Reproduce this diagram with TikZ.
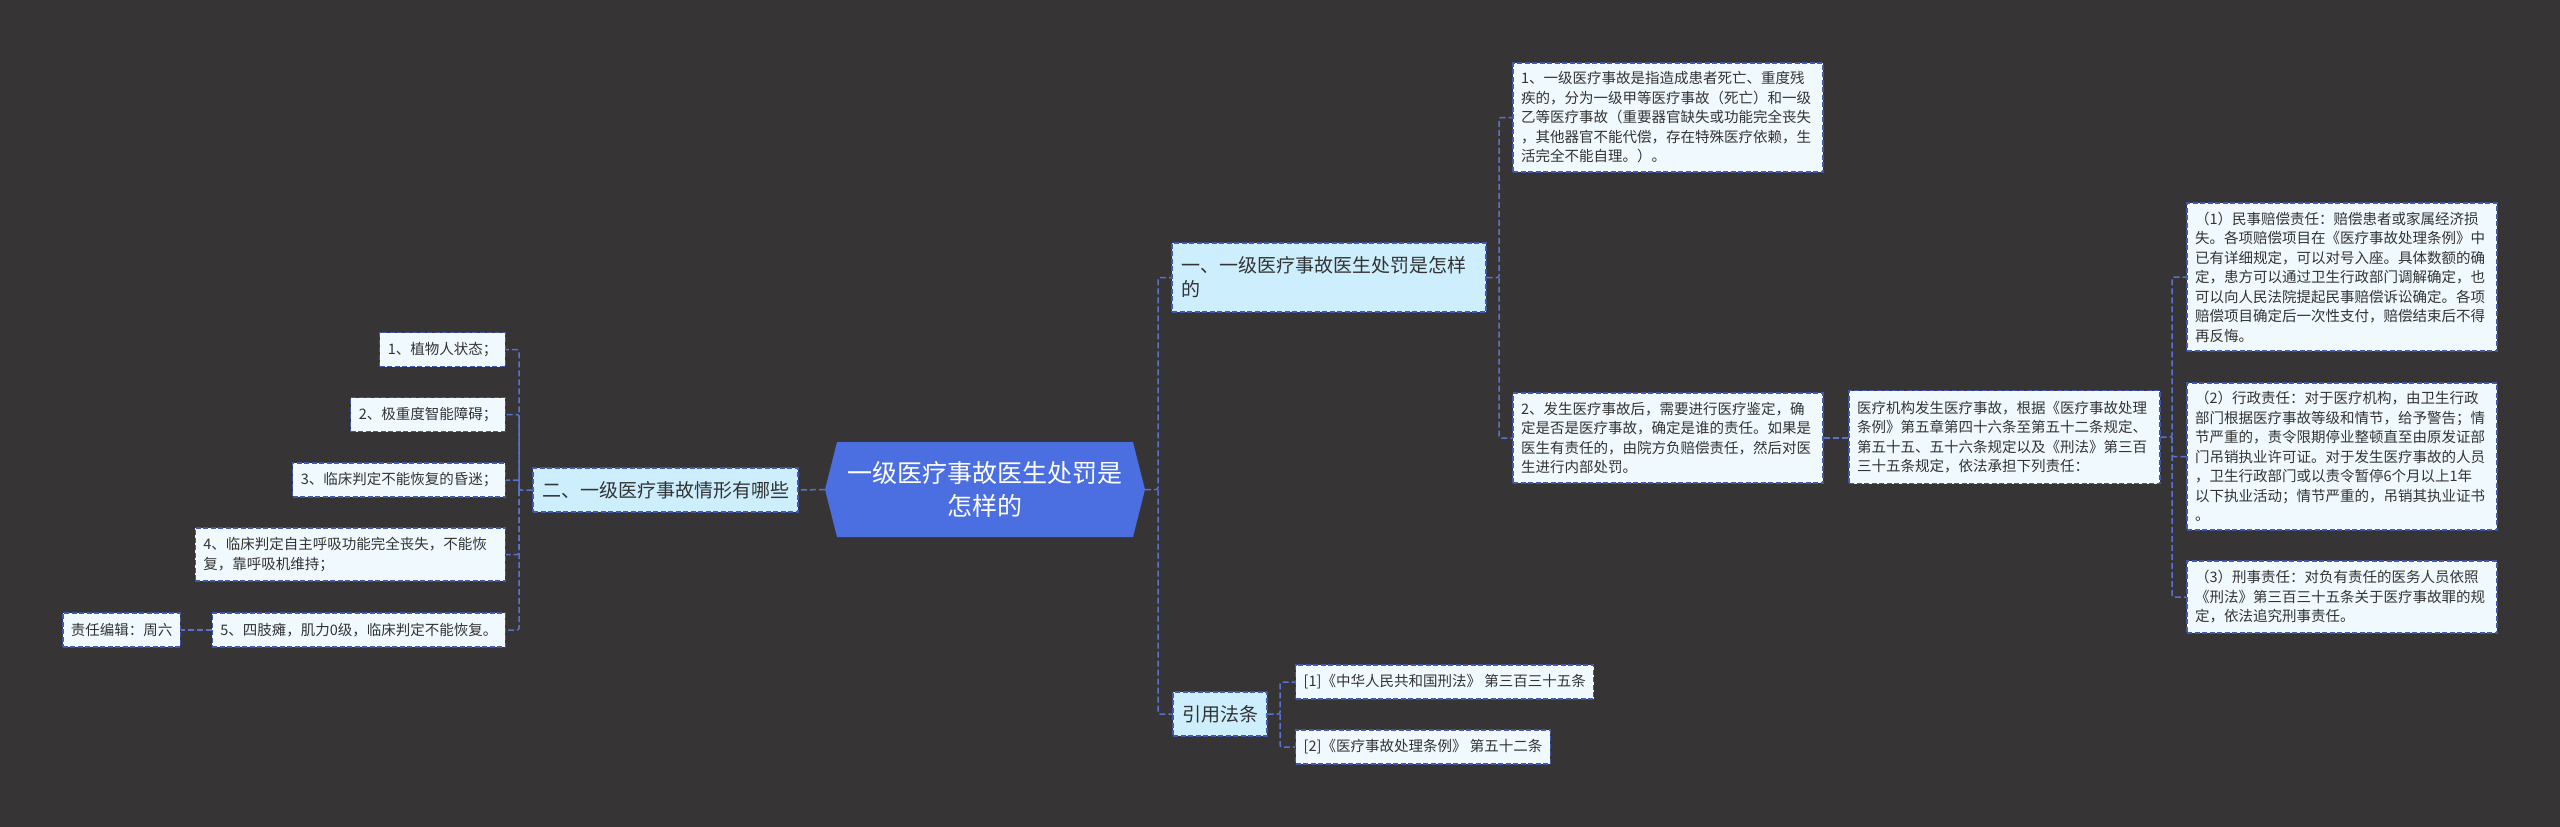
\documentclass[tikz,border=0pt]{standalone}
\usepackage{fontspec}
\setmainfont{Noto Sans CJK SC}
\definecolor{bgc}{HTML}{363435}
\definecolor{centf}{HTML}{4B6EE0}
\definecolor{branchf}{HTML}{CCEEFD}
\definecolor{leaff}{HTML}{F0FAFE}
\definecolor{bordc}{HTML}{4257B0}
\definecolor{linec}{HTML}{5A72CC}
\definecolor{txt}{HTML}{333333}
\begin{document}
\begin{tikzpicture}[x=1pt,y=-1pt,
  conn/.style={draw=linec, line width=1.5pt, dash pattern=on 6pt off 3pt, rounded corners=2pt},
  boxbase/.style={draw=bordc, line width=1.3pt, dash pattern=on 5pt off 2.5pt, text=txt, align=left},
  leaf/.style={boxbase, fill=leaff, font=\fontsize{14.5}{19.5}\selectfont, inner xsep=8pt, inner ysep=4pt},
  branch/.style={boxbase, fill=branchf, font=\fontsize{19}{24}\selectfont, inner xsep=9pt, inner ysep=4pt},
  centnode/.style={text=white, font=\fontsize{25}{33}\selectfont, align=center, minimum width=320pt, minimum height=95pt, inner sep=0pt}
]
\fill[bgc] (0,0) rectangle (2560,827);
\useasboundingbox (0,0) rectangle (2560,827);

% center
\fill[centf] (825,489.5) -- (837,442) -- (1133,442) -- (1145,489.5) -- (1133,537) -- (837,537) -- cycle;
\node[centnode] (c) at (985,489.5) {一级医疗事故医生处罚是\\怎样的};

% branches
\node[branch, text width=296pt, minimum height=69pt] (b1) at (1329,277.5) {一、一级医疗事故医生处罚是怎样\\的};
\node[branch, minimum width=265pt, minimum height=44pt, align=center] (b2) at (665.5,490) {二、一级医疗事故情形有哪些};
\node[branch, minimum width=94pt, minimum height=44pt, align=center] (b3) at (1220,714) {引用法条};

% right leaves
\node[leaf, text width=294pt, minimum height=109pt] (r1) at (1668,117.5) {1、一级医疗事故是指造成患者死亡、重度残\\疾的，分为一级甲等医疗事故（死亡）和一级\\乙等医疗事故（重要器官缺失或功能完全丧失\\，其他器官不能代偿，存在特殊医疗依赖，生\\活完全不能自理。）。};
\node[leaf, text width=294pt, minimum height=90pt] (r2) at (1668,438) {2、发生医疗事故后，需要进行医疗鉴定，确\\定是否是医疗事故，确定是谁的责任。如果是\\医生有责任的，由院方负赔偿责任，然后对医\\生进行内部处罚。};
\node[leaf, text width=295pt, minimum height=93pt] (m) at (2004.5,437) {医疗机构发生医疗事故，根据《医疗事故处理\\条例》第五章第四十六条至第五十二条规定、\\第五十五、五十六条规定以及《刑法》第三百\\三十五条规定，依法承担下列责任：};
\node[leaf, text width=294pt, minimum height=148pt] (p1) at (2342,277) {（1）民事赔偿责任：赔偿患者或家属经济损\\失。各项赔偿项目在《医疗事故处理条例》中\\已有详细规定，可以对号入座。具体数额的确\\定，患方可以通过卫生行政部门调解确定，也\\可以向人民法院提起民事赔偿诉讼确定。各项\\赔偿项目确定后一次性支付，赔偿结束后不得\\再反悔。};
\node[leaf, text width=294pt, minimum height=147pt] (p2) at (2342,456.5) {（2）行政责任：对于医疗机构，由卫生行政\\部门根据医疗事故等级和情节，给予警告；情\\节严重的，责令限期停业整顿直至由原发证部\\门吊销执业许可证。对于发生医疗事故的人员\\，卫生行政部门或以责令暂停6个月以上1年\\以下执业活动；情节严重的，吊销其执业证书\\。};
\node[leaf, text width=294pt, minimum height=72pt] (p3) at (2342,597) {（3）刑事责任：对负有责任的医务人员依照\\《刑法》第三百三十五条关于医疗事故罪的规\\定，依法追究刑事责任。};

% references
\node[leaf, anchor=west, minimum height=34pt] (f1) at (1295,682) {[1]《中华人民共和国刑法》 第三百三十五条};
\node[leaf, anchor=west, minimum height=34pt] (f2) at (1295,747) {[2]《医疗事故处理条例》 第五十二条};

% left leaves
\node[leaf, anchor=east, minimum height=34pt] (l1) at (506,349.5) {1、植物人状态；};
\node[leaf, anchor=east, minimum height=34pt] (l2) at (506,414.5) {2、极重度智能障碍；};
\node[leaf, anchor=east, minimum height=34pt] (l3) at (506,480) {3、临床判定不能恢复的昏迷；};
\node[leaf, anchor=east, text width=294pt, minimum height=53pt] (l4) at (506,554.5) {4、临床判定自主呼吸功能完全丧失，不能恢\\复，靠呼吸机维持；};
\node[leaf, anchor=east, minimum height=34pt] (l5) at (506,630) {5、四肢瘫，肌力0级，临床判定不能恢复。};
\node[leaf, anchor=east, minimum height=34pt] (ed) at (181,630) {责任编辑：周六};

% junctions
\coordinate (jr) at (1158,489.5);
\coordinate (j1) at (1499,277.5);
\coordinate (j3) at (2172,437);
\coordinate (j4) at (1280,714);
\coordinate (jl) at (519,490);

% connectors
\draw[conn] (c.east) -- (jr) |- (b1.west);
\draw[conn] (jr) |- (b3.west);
\draw[conn] (c.west) -- (b2.east);
\draw[conn] (b1.east) -- (j1) |- (r1.west);
\draw[conn] (j1) |- (r2.west);
\draw[conn] (r2.east) -- (r2.east -| m.west);
\draw[conn] (m.east) -- (j3) |- (p1.west);
\draw[conn] (j3) |- (p2.west);
\draw[conn] (j3) |- (p3.west);
\draw[conn] (b3.east) -- (j4) |- (f1.west);
\draw[conn] (j4) |- (f2.west);
\draw[conn] (b2.west) -- (jl) |- (l1.east);
\draw[conn] (jl) |- (l2.east);
\draw[conn] (jl) |- (l3.east);
\draw[conn] (jl) |- (l4.east);
\draw[conn] (jl) |- (l5.east);
\draw[conn] (l5.west) -- (ed.east);
\end{tikzpicture}
\end{document}
